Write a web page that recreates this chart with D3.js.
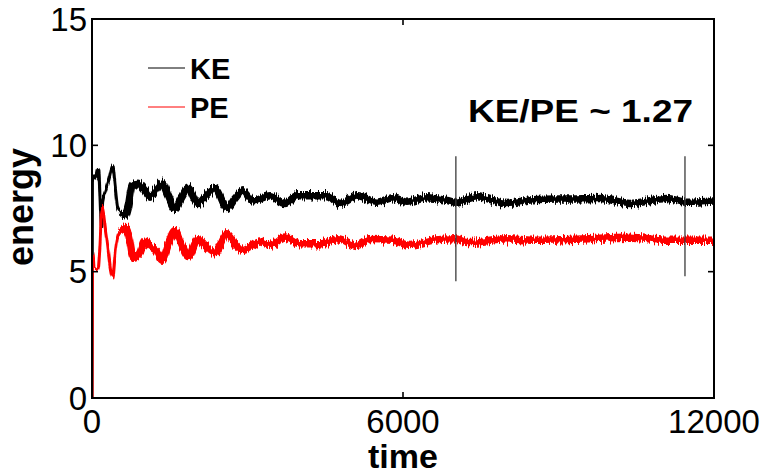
<!DOCTYPE html>
<html>
<head>
<meta charset="utf-8">
<script src="https://cdn.jsdelivr.net/npm/d3@7"></script>
<style>
  html, body { margin: 0; padding: 0; background: #fff; }
  svg { display: block; }
  text { font-family: "Liberation Sans", Arial, Helvetica, sans-serif; fill: #000; }
</style>
</head>
<body>
<svg id="chart" width="766" height="474"></svg>
<script>
// Kinetic and potential energy over time
const keTime = [0, 8, 40, 70, 100, 125, 187, 206, 260, 330, 399, 450, 500, 560, 640, 700, 772, 887, 960, 1022, 1119, 1250, 1350, 1470, 1601, 1720, 1852, 2045, 2200, 2373, 2604, 2760, 2913, 3100, 3434, 3723, 3955, 4533, 4784, 5131, 5498, 5806, 6076, 6462, 6848, 7002, 7427, 8005, 8507, 9278, 9799, 10378, 11092, 11478, 12000];
const keValue = [0, 8.6, 8.8, 8.7, 9.0, 9.05, 6.7, 7.8, 8.2, 8.7, 9.2, 8.3, 7.5, 7.35, 7.25, 7.6, 8.4, 8.5, 8.35, 8.2, 7.95, 8.3, 8.5, 8.0, 7.5, 7.9, 8.3, 7.7, 8.0, 8.3, 7.5, 7.9, 8.2, 7.8, 8.0, 7.7, 8.0, 8.0, 7.7, 8.0, 7.75, 7.93, 7.75, 7.93, 7.82, 7.75, 7.97, 7.7, 7.85, 7.88, 7.9, 7.7, 7.9, 7.75, 7.8];

const peTime = [0, 8, 19, 39, 116, 150, 193, 270, 399, 450, 521, 560, 656, 720, 791, 907, 1022, 1119, 1250, 1350, 1470, 1601, 1720, 1852, 2045, 2200, 2373, 2604, 2760, 2913, 3241, 3434, 3723, 4012, 4398, 4746, 5112, 5363, 5806, 6134, 6578, 7002, 7234, 8005, 8507, 9278, 10378, 11092, 12000];
const peValue = [0, 5.5, 5.7, 5.2, 5.1, 5.9, 7.55, 6.5, 4.78, 5.8, 6.5, 6.55, 6.75, 6.3, 5.57, 5.7, 6.2, 6.0, 5.8, 5.45, 6.1, 6.63, 6.1, 5.6, 6.3, 6.0, 5.75, 6.5, 6.1, 5.84, 6.17, 6.04, 6.37, 6.1, 6.1, 6.3, 6.04, 6.27, 6.24, 6.04, 6.24, 6.3, 6.15, 6.3, 6.24, 6.28, 6.36, 6.24, 6.24];

// Averaging-window markers
const markTime = [7020, 11440];
const markTop = [9.57, 9.57];
const markBottom = [4.62, 4.82];

const xTicks = [0, 6000, 12000];
const yTicks = [0, 5, 10, 15];
const seriesNames = ["KE", "PE"];
const seriesColors = ["#000000", "#ff0000"];
const annotation = "KE/PE ~ 1.27";

const svg = d3.select("#chart");
const plot = { left: 92, right: 714, top: 19, bottom: 398 };

const x = d3.scaleLinear().domain([0, 12000]).range([plot.left, plot.right]);
const y = d3.scaleLinear().domain([0, 15]).range([plot.bottom, plot.top]);

const defs = svg.append("defs");
defs.append("clipPath").attr("id", "plotClip")
  .append("rect")
  .attr("x", plot.left).attr("y", plot.top)
  .attr("width", plot.right - plot.left).attr("height", plot.bottom - plot.top);

// jagged vertical texture for the fluctuating signal (no horizontal shift)
const jitter = defs.append("filter").attr("id", "jitter")
  .attr("filterUnits", "userSpaceOnUse")
  .attr("x", 0).attr("y", 0).attr("width", 766).attr("height", 474)
  .attr("color-interpolation-filters", "sRGB");
jitter.append("feTurbulence")
  .attr("type", "fractalNoise").attr("baseFrequency", "0.9 0.03")
  .attr("numOctaves", 3).attr("seed", 5).attr("result", "noise");
jitter.append("feColorMatrix")
  .attr("in", "noise").attr("type", "matrix")
  .attr("values", "0 0 0 0 0.5  0 1 0 0 0  0 0 0 0 0  0 0 0 0 1")
  .attr("result", "vnoise");
jitter.append("feDisplacementMap")
  .attr("in", "SourceGraphic").attr("in2", "vnoise")
  .attr("scale", 10).attr("xChannelSelector", "R").attr("yChannelSelector", "G");

const series = [
  { t: keTime, v: keValue, color: seriesColors[0] },
  { t: peTime, v: peValue, color: seriesColors[1] }
];

const line = d3.line()
  .x(d => x(d[0]))
  .y(d => y(d[1]))
  .curve(d3.curveMonotoneX);

const dataG = svg.append("g").attr("clip-path", "url(#plotClip)");
const bandSplit = 700;

series.forEach(s => {
  const pts = s.t.map((t, i) => [t, s.v[i]]);
  const early = pts.filter(p => p[0] <= bandSplit + 100);
  const late = pts.filter(p => p[0] >= bandSplit - 150);
  const g = dataG.append("g").attr("filter", "url(#jitter)");
  g.append("path").datum(early)
    .attr("d", line).attr("fill", "none")
    .attr("stroke", s.color).attr("stroke-width", 3)
    .attr("stroke-linejoin", "round");
  g.append("path").datum(late)
    .attr("d", line).attr("fill", "none")
    .attr("stroke", s.color).attr("stroke-width", 7.5)
    .attr("stroke-linejoin", "round");
});

// vertical markers
dataG.selectAll("line.mark").data(markTime).join("line")
  .attr("class", "mark")
  .attr("x1", d => x(d)).attr("x2", d => x(d))
  .attr("y1", (d, i) => y(markTop[i])).attr("y2", (d, i) => y(markBottom[i]))
  .attr("stroke", "#3a3a3a").attr("stroke-width", 1.3);

// frame
svg.append("rect")
  .attr("x", plot.left).attr("y", plot.top)
  .attr("width", plot.right - plot.left).attr("height", plot.bottom - plot.top)
  .attr("fill", "none").attr("stroke", "#000").attr("stroke-width", 2);

// inward ticks on all four sides
const tickLen = 6;
const axisG = svg.append("g").attr("stroke", "#000").attr("stroke-width", 1.6);
yTicks.forEach(v => {
  axisG.append("line").attr("x1", plot.left).attr("x2", plot.left + tickLen).attr("y1", y(v)).attr("y2", y(v));
  axisG.append("line").attr("x1", plot.right).attr("x2", plot.right - tickLen).attr("y1", y(v)).attr("y2", y(v));
});
xTicks.forEach(v => {
  axisG.append("line").attr("x1", x(v)).attr("x2", x(v)).attr("y1", plot.bottom).attr("y2", plot.bottom - tickLen);
  axisG.append("line").attr("x1", x(v)).attr("x2", x(v)).attr("y1", plot.top).attr("y2", plot.top + tickLen);
});

// tick labels
svg.append("g").selectAll("text").data(yTicks).join("text")
  .attr("x", plot.left - 5).attr("y", d => y(d) + 11.5)
  .attr("text-anchor", "end").attr("font-size", 33)
  .text(d => d);
svg.append("g").selectAll("text").data(xTicks).join("text")
  .attr("x", d => x(d)).attr("y", 433)
  .attr("text-anchor", "middle").attr("font-size", 33)
  .text(d => d);

// axis titles
svg.append("text")
  .attr("x", (plot.left + plot.right) / 2).attr("y", 468)
  .attr("text-anchor", "middle").attr("font-size", 34).attr("font-weight", "bold")
  .text("time");
svg.append("text")
  .attr("transform", "translate(33,207) rotate(-90)")
  .attr("text-anchor", "middle").attr("font-size", 36).attr("font-weight", "bold")
  .text("energy");

// legend
const legendY = [68, 107];
const legend = svg.append("g");
seriesNames.forEach((name, i) => {
  legend.append("line")
    .attr("x1", 148).attr("x2", 185)
    .attr("y1", legendY[i]).attr("y2", legendY[i])
    .attr("stroke", seriesColors[i]).attr("stroke-width", 1);
  legend.append("text")
    .attr("x", 190).attr("y", legendY[i] + 11)
    .attr("font-size", 29).attr("font-weight", "bold")
    .text(name);
});

// ratio annotation
svg.append("text")
  .attr("x", 468).attr("y", 121.5)
  .attr("font-size", 31).attr("font-weight", "bold")
  .attr("textLength", 225).attr("lengthAdjust", "spacingAndGlyphs")
  .text(annotation);
</script>
</body>
</html>
